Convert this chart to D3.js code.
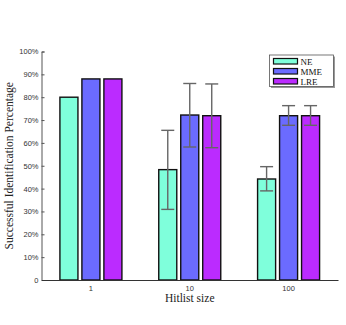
<!DOCTYPE html>
<html lang="en">
  <head>
    <meta charset="UTF-8" />
    <title>Successful Identification Percentage by Hitlist size</title>
    <style>
      body { margin: 0; background: white; }
      svg { display: block; }
    </style>
  </head>
  <body>
    <svg></svg>
    <script src="https://d3js.org/d3.v7.min.js"></script>
    <script>
      const categories = ["1", "10", "100"];
      const seriesNames = ["NE", "MME", "LRE"];
      const colors = ["#7fffdb", "#6b6bff", "#bb2bff"];
      // bar heights (%) per series, one per category
      const neValues = [80, 48.3, 44.2];
      const mmeValues = [88, 72.2, 71.9];
      const lreValues = [88, 71.9, 71.9];
      // error bar [low, high], null where none
      const neErr = [null, [30.9, 65.5], [39, 49.6]];
      const mmeErr = [null, [58.2, 86], [67.7, 76.3]];
      const lreErr = [null, [57.9, 85.8], [67.7, 76.3]];
      const yTicks = [0, 10, 20, 30, 40, 50, 60, 70, 80, 90, 100];

      const width = 346;
      const height = 325;
      const margin = { top: 51.5, right: 8, bottom: 45, left: 41.5 };

      const svg = d3.select("svg").attr("width", width).attr("height", height);

      const x = d3
        .scaleBand()
        .domain(categories)
        .range([margin.left, width - margin.right]);

      const xSeries = d3
        .scaleBand()
        .domain(seriesNames)
        .range([-31, 31])
        .paddingInner(0.18);

      const y = d3
        .scaleLinear()
        .domain([0, 100])
        .range([height - margin.bottom, margin.top]);

      const rows = [];
      const vals = [neValues, mmeValues, lreValues];
      const errs = [neErr, mmeErr, lreErr];
      seriesNames.forEach((s, i) => {
        categories.forEach((c, j) => {
          rows.push({ series: s, cat: c, value: vals[i][j], err: errs[i][j], color: colors[i] });
        });
      });

      // bars
      svg
        .append("g")
        .selectAll("rect")
        .data(rows)
        .join("rect")
        .attr("x", (d) => x(d.cat) + x.bandwidth() / 2 + xSeries(d.series))
        .attr("y", (d) => y(d.value))
        .attr("width", xSeries.bandwidth())
        .attr("height", (d) => y(0) - y(d.value))
        .attr("fill", (d) => d.color)
        .attr("stroke", "#111")
        .attr("stroke-width", 1.4);

      // error bars
      const eb = svg
        .append("g")
        .attr("stroke", "#666")
        .attr("stroke-width", 1.4)
        .selectAll("g")
        .data(rows.filter((d) => d.err))
        .join("g")
        .attr("transform", (d) =>
          `translate(${x(d.cat) + x.bandwidth() / 2 + xSeries(d.series) + xSeries.bandwidth() / 2},0)`
        );
      eb.append("line")
        .attr("y1", (d) => y(d.err[0]))
        .attr("y2", (d) => y(d.err[1]));
      eb.append("line")
        .attr("x1", -6.5).attr("x2", 6.5)
        .attr("y1", (d) => y(d.err[0]))
        .attr("y2", (d) => y(d.err[0]));
      eb.append("line")
        .attr("x1", -6.5).attr("x2", 6.5)
        .attr("y1", (d) => y(d.err[1]))
        .attr("y2", (d) => y(d.err[1]));

      // y axis
      const yAxis = svg
        .append("g")
        .attr("transform", `translate(${margin.left},0)`)
        .call(
          d3
            .axisLeft(y)
            .tickValues(yTicks)
            .tickSizeInner(-3)
            .tickSizeOuter(-3)
            .tickPadding(3)
            .tickFormat((d) => (d === 0 ? "0" : d + "%"))
        );
      yAxis.select(".domain").attr("stroke", "#555");
      yAxis.selectAll(".tick line").attr("stroke", "#555");
      yAxis
        .selectAll("text")
        .attr("font-family", "Liberation Sans, Arial, sans-serif")
        .attr("font-size", 7.5)
        .attr("fill", "#333");

      // x axis
      const xAxis = svg
        .append("g")
        .attr("transform", `translate(0,${y(0)})`)
        .call(d3.axisBottom(x).tickSize(0).tickSizeOuter(0).tickPadding(6));
      xAxis.select(".domain").attr("stroke", "#333").attr("stroke-width", 1.2);
      xAxis
        .selectAll("text")
        .attr("font-family", "Liberation Sans, Arial, sans-serif")
        .attr("font-size", 7.5)
        .attr("fill", "#333");

      // axis titles
      svg
        .append("text")
        .attr("x", x("10") + x.bandwidth() / 2)
        .attr("y", 302)
        .attr("text-anchor", "middle")
        .attr("font-family", "Liberation Serif, serif")
        .attr("font-size", 11.5)
        .attr("fill", "#222")
        .text("Hitlist size");

      svg
        .append("text")
        .attr("transform", `translate(13,${(y(0) + y(100)) / 2}) rotate(-90)`)
        .attr("text-anchor", "middle")
        .attr("font-family", "Liberation Serif, serif")
        .attr("font-size", 11.5)
        .attr("fill", "#222")
        .text("Successful Identification Percentage");

      // legend
      const legend = svg.append("g").attr("transform", "translate(269.5,55)");
      legend
        .append("rect")
        .attr("x", 1.5).attr("y", 1.5)
        .attr("width", 64).attr("height", 31.5)
        .attr("fill", "#999");
      legend
        .append("rect")
        .attr("width", 64).attr("height", 31.5)
        .attr("fill", "white")
        .attr("stroke", "#555")
        .attr("stroke-width", 0.8);
      const li = legend
        .selectAll("g.item")
        .data(seriesNames)
        .join("g")
        .attr("class", "item")
        .attr("transform", (d, i) => `translate(4,${3.5 + i * 10})`);
      li.append("rect")
        .attr("width", 24).attr("height", 5.5)
        .attr("fill", (d, i) => colors[i])
        .attr("stroke", "#111")
        .attr("stroke-width", 1.2);
      li.append("text")
        .attr("x", 27)
        .attr("y", 6.3)
        .attr("font-family", "Liberation Serif, serif")
        .attr("font-size", 9)
        .attr("fill", "#111")
        .text((d) => d);
    </script>
  </body>
</html>
